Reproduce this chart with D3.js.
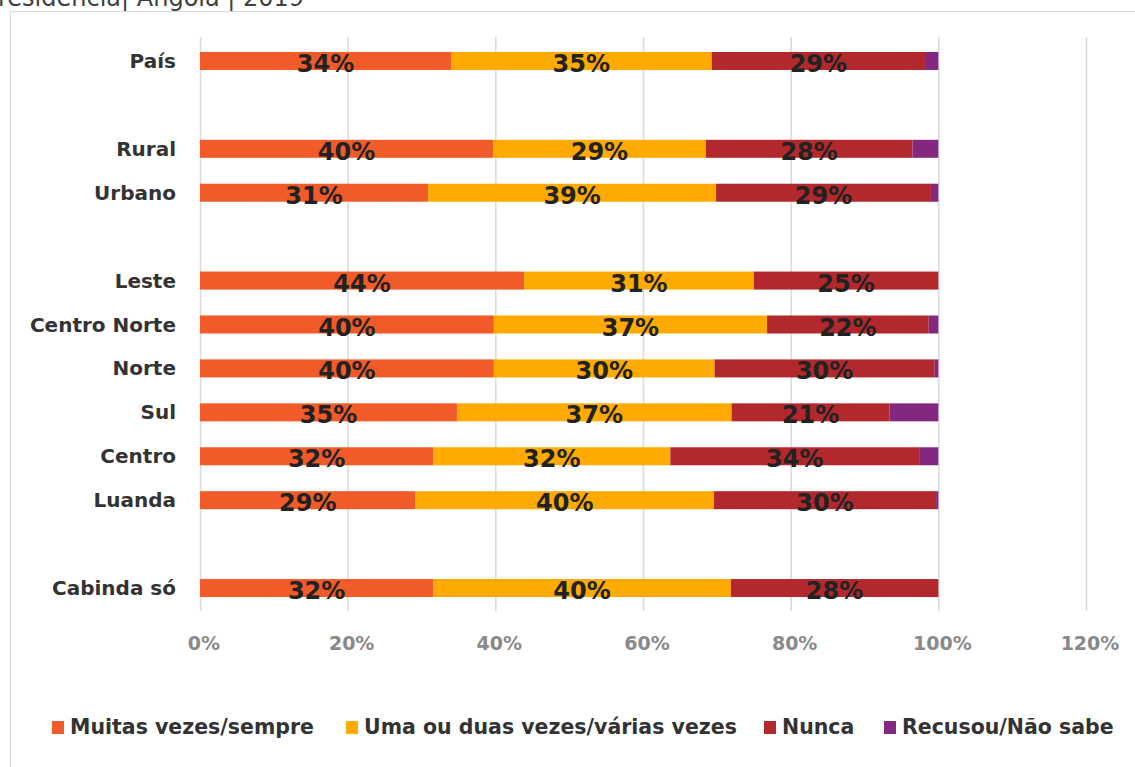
<!DOCTYPE html>
<html><head><meta charset="utf-8">
<script src="https://cdn.jsdelivr.net/npm/d3@7"></script>
<style>body{margin:0;background:#fff;} svg{display:block;}</style>
</head><body>
<svg id="c" width="1135" height="767"></svg>
<script>
const categories = ["País", "", "Rural", "Urbano", " ", "Leste", "Centro Norte", "Norte", "Sul", "Centro", "Luanda", "  ", "Cabinda só"];
const muitas   = [34.0, null, 39.7, 30.9, null, 43.9, 39.8, 39.8, 34.8, 31.6, 29.2, null, 31.6];
const umaDuas  = [35.3, null, 28.8, 39.0, null, 31.1, 37.0, 29.9, 37.2, 32.1, 40.4, null, 40.3];
const nunca    = [28.9, null, 28.0, 29.1, null, 25.0, 21.9, 29.8, 21.4, 33.7, 30.1, null, 28.1];
const recusou  = [1.8,  null, 3.5,  1.0,  null, 0.0,  1.3,  0.5,  6.6,  2.6,  0.3,  null, 0.0];
const labMuitas  = ["34%", "", "40%", "31%", "", "44%", "40%", "40%", "35%", "32%", "29%", "", "32%"];
const labUma     = ["35%", "", "29%", "39%", "", "31%", "37%", "30%", "37%", "32%", "40%", "", "40%"];
const labNunca   = ["29%", "", "28%", "29%", "", "25%", "22%", "30%", "21%", "34%", "30%", "", "28%"];
const seriesNames = ["Muitas vezes/sempre", "Uma ou duas vezes/várias vezes", "Nunca", "Recusou/Não sabe"];
const colors = ["#F15A29", "#FFAA00", "#B3282D", "#84277F"];
const xTicks = [0, 20, 40, 60, 80, 100, 120];
const titleText = "residência| Angola | 2019";

const svg = d3.select("#c");
const font = "'Century Gothic', 'DejaVu Sans', sans-serif";

// title (cut at top, as in the reference)
svg.append("text").attr("x", -2).attr("y", 6).attr("font-family", font)
  .attr("font-size", 24).attr("fill", "#404040").text(titleText);

// chart area border
svg.append("rect").attr("x", 10.5).attr("y", 11.5).attr("width", 1140).attr("height", 780)
  .attr("fill", "none").attr("stroke", "#d9d9d9").attr("stroke-width", 1);

const x = d3.scaleLinear().domain([0, 120]).range([200, 1086]);
const y = d3.scaleBand().domain(categories).range([39, 610]).paddingInner(0.59).paddingOuter(0.295);

// gridlines
svg.append("g").selectAll("line").data(xTicks).join("line")
  .attr("x1", d => x(d) + 0.5).attr("x2", d => x(d) + 0.5)
  .attr("y1", 37).attr("y2", 611)
  .attr("stroke", "#d9d9d9").attr("stroke-width", 1.5);

// tick labels
svg.append("g").selectAll("text").data(xTicks).join("text")
  .attr("x", d => x(d) + 4).attr("y", 650).attr("text-anchor", "middle")
  .attr("font-family", font).attr("font-weight", "bold").attr("font-size", 19)
  .attr("fill", "#898989").text(d => d + "%");

const seriesData = [muitas, umaDuas, nunca, recusou];
const labels = [labMuitas, labUma, labNunca, null];

const rows = categories.map((c, i) => {
  let acc = 0;
  return seriesData.map((s, k) => {
    const v = s[i];
    const seg = {cat: c, k, v, x0: acc, x1: acc + (v || 0), label: labels[k] ? labels[k][i] : ""};
    acc += v || 0;
    return seg;
  });
}).flat().filter(d => d.v);

const bh = y.bandwidth();
svg.append("g").selectAll("rect").data(rows).join("rect")
  .attr("x", d => x(d.x0)).attr("width", d => x(d.x1) - x(d.x0))
  .attr("y", d => y(d.cat)).attr("height", bh)
  .attr("fill", d => colors[d.k]);

svg.append("g").selectAll("text").data(rows.filter(d => d.label)).join("text")
  .attr("x", d => (x(d.x0) + x(d.x1)) / 2)
  .attr("y", d => y(d.cat) + bh / 2 + 11)
  .attr("text-anchor", "middle")
  .attr("font-family", font).attr("font-weight", "bold").attr("font-size", 24)
  .attr("fill", "#222222").text(d => d.label);

// category labels
svg.append("g").selectAll("text").data(categories.filter(c => c.trim())).join("text")
  .attr("x", 176).attr("y", d => y(d) + bh / 2 + 7)
  .attr("text-anchor", "end")
  .attr("font-family", font).attr("font-weight", "bold").attr("font-size", 20)
  .attr("fill", "#333333").text(d => d);

// legend
const legX = [52, 346, 764, 884];
const leg = svg.append("g").selectAll("g").data(seriesNames).join("g")
  .attr("transform", (d, i) => `translate(${legX[i]},727)`);
leg.append("rect").attr("x", 0).attr("y", -6).attr("width", 12).attr("height", 13)
  .attr("fill", (d, i) => colors[i]);
leg.append("text").attr("x", 18).attr("y", 7)
  .attr("font-family", font).attr("font-weight", "bold").attr("font-size", 20.5)
  .attr("fill", "#333333").text(d => d);
</script>
</body></html>
